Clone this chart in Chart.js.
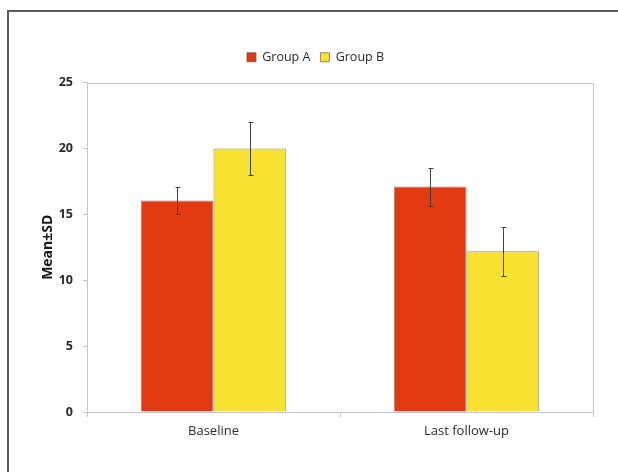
<!DOCTYPE html>
<html>
<head>
<meta charset="utf-8">
<script src="https://cdn.jsdelivr.net/npm/chart.js@4/dist/chart.umd.min.js"></script>
<style>
  html, body { margin: 0; padding: 0; background: #ffffff; overflow: hidden; }
  #wrap { position: relative; width: 618px; height: 472px; }
  #c { position: absolute; left: 0; top: 0; }
  #frame { position: absolute; left: 7px; top: 10px; width: 620px; height: 470px;
           border-top: 2px solid #5a5a5a; border-left: 2px solid #5a5a5a; pointer-events: none; }
</style>
</head>
<body>
<div id="wrap">
  <canvas id="c" width="618" height="472"></canvas>
  <div id="frame"></div>
</div>
<script>
const categories = ['Baseline', 'Last follow-up'];
const groupAMeans = [16.05, 17.1];
const groupASD = [1.0, 1.45];
const groupBMeans = [20.0, 12.2];
const groupBSD = [2.0, 1.85];
const yTicks = [0, 5, 10, 15, 20, 25];

const FONT = "'Open Sans', 'Liberation Sans', sans-serif";
const sdByDataset = [groupASD, groupBSD];

const legendSpacer = {
  id: 'legendSpacer',
  afterInit(chart) {
    const lg = chart.legend;
    if (!lg) return;
    const orig = lg.fit.bind(lg);
    lg.fit = function () { orig(); this.height += 9; };
  }
};

const plotFrame = {
  id: 'plotFrame',
  beforeDatasetsDraw(chart) {
    const { ctx, chartArea: a } = chart;
    ctx.save();
    ctx.strokeStyle = '#c4c4c4';
    ctx.lineWidth = 1;
    ctx.beginPath();
    ctx.moveTo(Math.round(a.left), Math.round(a.top) + 0.5);
    ctx.lineTo(Math.round(a.right) + 0.5, Math.round(a.top) + 0.5);
    ctx.lineTo(Math.round(a.right) + 0.5, Math.round(a.bottom));
    ctx.stroke();
    ctx.restore();
  }
};

const errorBars = {
  id: 'errorBars',
  afterDatasetsDraw(chart) {
    const { ctx } = chart;
    const ys = chart.scales.y;
    ctx.save();
    ctx.strokeStyle = '#404040';
    ctx.lineWidth = 1;
    chart.data.datasets.forEach((ds, i) => {
      const meta = chart.getDatasetMeta(i);
      meta.data.forEach((el, j) => {
        const m = ds.data[j];
        const sd = sdByDataset[i][j];
        const x = Math.round(el.x) + 0.5;
        const yt = Math.round(ys.getPixelForValue(m + sd)) + 0.5;
        const yb = Math.round(ys.getPixelForValue(m - sd)) + 0.5;
        ctx.beginPath();
        ctx.moveTo(x, yt); ctx.lineTo(x, yb);
        ctx.moveTo(x - 2, yt); ctx.lineTo(x + 3, yt);
        ctx.moveTo(x - 2, yb); ctx.lineTo(x + 3, yb);
        ctx.stroke();
      });
    });
    ctx.restore();
  }
};

new Chart(document.getElementById('c'), {
  type: 'bar',
  data: {
    labels: categories,
    datasets: [
      { label: 'Group A', data: groupAMeans, backgroundColor: '#E43A12', borderColor: 'rgba(110,80,60,0.7)', borderWidth: 1 },
      { label: 'Group B', data: groupBMeans, backgroundColor: '#F7E230', borderColor: 'rgba(110,100,60,0.7)', borderWidth: 1 }
    ]
  },
  options: {
    responsive: false,
    animation: false,
    devicePixelRatio: 1,
    layout: { padding: { left: 38, right: 25, top: 41, bottom: 0 } },
    datasets: { bar: { categoryPercentage: 0.575, barPercentage: 1.0 } },
    plugins: {
      legend: {
        position: 'top',
        labels: {
          boxWidth: 9, boxHeight: 9, padding: 10,
          color: '#2a2a2a',
          font: { family: FONT, size: 12.5 }
        }
      },
      tooltip: { enabled: false },
      title: { display: false }
    },
    scales: {
      x: {
        afterFit(s) { s.height = 60; },
        grid: { display: true, drawOnChartArea: false, offset: true, tickLength: 5, color: '#c4c4c4' },
        border: { color: '#c4c4c4' },
        ticks: { color: '#2a2a2a', padding: 6, font: { family: FONT, size: 13 } }
      },
      y: {
        min: 0, max: 25,
        afterFit(s) { s.width = 49; },
        afterBuildTicks(s) { s.ticks = yTicks.map(v => ({ value: v })); },
        grid: { display: true, drawOnChartArea: false, tickLength: 4, color: '#c4c4c4' },
        border: { color: '#c4c4c4' },
        ticks: { color: '#2a2a2a', padding: 10, font: { family: FONT, size: 12.5, weight: 'bold' } },
        title: { display: true, text: 'Mean±SD', color: '#1a1a1a', padding: { top: 2, bottom: 0 },
                 font: { family: FONT, size: 14, weight: 'bold' } }
      }
    }
  },
  plugins: [legendSpacer, plotFrame, errorBars]
});
</script>
</body>
</html>
